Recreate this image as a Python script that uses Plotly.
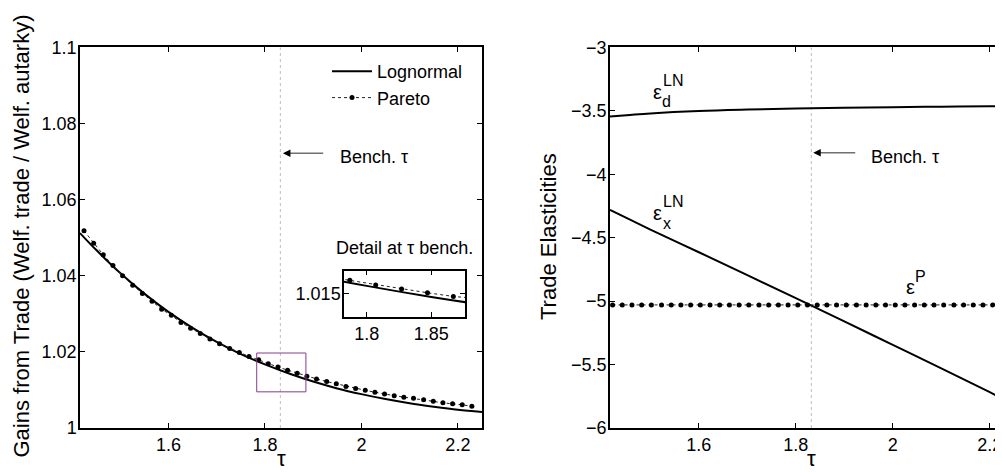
import plotly.graph_objects as go

# ---------------- data ----------------
# Left panel: gains from trade
tau_ln = [1.4167, 1.45, 1.5, 1.55, 1.6, 1.65, 1.7, 1.75, 1.8, 1.85, 1.9, 1.95,
          2.0, 2.05, 2.1, 2.15, 2.2, 2.25]
gains_ln = [1.0512, 1.0468, 1.0407, 1.0353, 1.0305, 1.0263, 1.0226, 1.0194, 1.0167,
            1.0143, 1.0122, 1.0104, 1.0089, 1.0076, 1.0065, 1.0056, 1.0048, 1.0042]

tau_par = [1.425, 1.445, 1.465, 1.485, 1.505, 1.526, 1.546, 1.566, 1.586, 1.606,
           1.626, 1.646, 1.666, 1.686, 1.706, 1.727, 1.747, 1.767, 1.787, 1.807,
           1.827, 1.847, 1.867, 1.887, 1.907, 1.928, 1.948, 1.968, 1.988, 2.008,
           2.028, 2.048, 2.068, 2.088, 2.108, 2.129, 2.149, 2.169, 2.189, 2.209, 2.229]
gains_par = [1.0518, 1.0485, 1.0455, 1.0427, 1.0400, 1.0375, 1.0353, 1.0333, 1.0312, 1.0296,
             1.0277, 1.0262, 1.0248, 1.0234, 1.0221, 1.0209, 1.0198, 1.0188, 1.0179, 1.0169,
             1.0160, 1.0152, 1.0144, 1.0136, 1.0129, 1.0122, 1.0116, 1.0109, 1.0104, 1.0099,
             1.0094, 1.0089, 1.0085, 1.0081, 1.0078, 1.0074, 1.0070, 1.0066, 1.0064, 1.0061, 1.0057]

# Right panel: trade elasticities
tau_el = [1.4167, 1.458, 1.5, 1.6, 1.7, 1.8, 1.9, 2.0, 2.1, 2.2, 2.25]
eps_d = [-3.546, -3.533, -3.521, -3.502, -3.491, -3.483, -3.477, -3.472, -3.468, -3.464, -3.462]
eps_x = [-4.281, -4.358, -4.436, -4.615, -4.795, -4.977, -5.160, -5.345, -5.530, -5.718, -5.812]

tau_epsp = [1.422, 1.442, 1.462, 1.482, 1.502, 1.523, 1.543, 1.563, 1.583, 1.603,
            1.623, 1.643, 1.663, 1.683, 1.703, 1.724, 1.744, 1.764, 1.784, 1.804,
            1.824, 1.844, 1.864, 1.884, 1.904, 1.925, 1.945, 1.965, 1.985, 2.005,
            2.025, 2.045, 2.065, 2.085, 2.105, 2.126, 2.146, 2.166, 2.186, 2.206,
            2.226, 2.246]
eps_p = [-5.03, -5.03, -5.03, -5.03, -5.03, -5.03, -5.03, -5.03, -5.03, -5.03,
         -5.03, -5.03, -5.03, -5.03, -5.03, -5.03, -5.03, -5.03, -5.03, -5.03,
         -5.03, -5.03, -5.03, -5.03, -5.03, -5.03, -5.03, -5.03, -5.03, -5.03,
         -5.03, -5.03, -5.03, -5.03, -5.03, -5.03, -5.03, -5.03, -5.03, -5.03,
         -5.03, -5.03]

bench_tau = 1.832

x_ticks = [1.6, 1.8, 2.0, 2.2]
x_ticklabels = ["1.6", "1.8", "2", "2.2"]
yl_ticks = [1.0, 1.02, 1.04, 1.06, 1.08, 1.1]
yl_ticklabels = ["1", "1.02", "1.04", "1.06", "1.08", "1.1"]
yr_ticks = [-3, -3.5, -4, -4.5, -5, -5.5, -6]
yr_ticklabels = ["\u22123", "\u22123.5", "\u22124", "\u22124.5", "\u22125", "\u22125.5", "\u22126"]
inset_xticks = [1.8, 1.85]
inset_xticklabels = ["1.8", "1.85"]
inset_yticks = [1.015]
inset_yticklabels = ["1.015"]

# ---------------- figure ----------------
# The page places the figure 8px from the top-left corner (body margin),
# so the figure is sized to fill the 1003x473 window from there.
OFF = 8
W, H = 1006, 465
FONT = "Liberation Sans, Arial, Helvetica, sans-serif"


def px_x(p):
    return (p - OFF) / W


def px_y(p):
    return (H - (p - OFF)) / H


fig = go.Figure()

# Left panel
fig.add_trace(go.Scatter(x=tau_ln, y=gains_ln, mode="lines", name="Lognormal",
                         line=dict(color="black", width=2, shape="spline"),
                         xaxis="x", yaxis="y"))
fig.add_trace(go.Scatter(x=tau_par, y=gains_par, mode="lines+markers", name="Pareto",
                         line=dict(color="#222222", width=1, dash="dot"),
                         marker=dict(color="black", size=5),
                         xaxis="x", yaxis="y"))
# Inset
fig.add_trace(go.Scatter(x=tau_ln, y=gains_ln, mode="lines", showlegend=False,
                         line=dict(color="black", width=2, shape="spline"),
                         xaxis="x3", yaxis="y3"))
fig.add_trace(go.Scatter(x=tau_par, y=gains_par, mode="lines+markers", showlegend=False,
                         line=dict(color="#222222", width=1, dash="dot"),
                         marker=dict(color="black", size=5),
                         xaxis="x3", yaxis="y3"))
# Right panel
fig.add_trace(go.Scatter(x=tau_el, y=eps_d, mode="lines", showlegend=False,
                         line=dict(color="black", width=2, shape="spline"),
                         xaxis="x2", yaxis="y2"))
fig.add_trace(go.Scatter(x=tau_el, y=eps_x, mode="lines", showlegend=False,
                         line=dict(color="black", width=2, shape="spline"),
                         xaxis="x2", yaxis="y2"))
fig.add_trace(go.Scatter(x=tau_epsp, y=eps_p, mode="lines+markers", showlegend=False,
                         line=dict(color="#222222", width=1, dash="dot"),
                         marker=dict(color="black", size=5),
                         xaxis="x2", yaxis="y2"))

tickfont = dict(family=FONT, size=18, color="black")
ax_common = dict(showline=True, linecolor="black", linewidth=1.5, ticks="inside",
                 ticklen=5, tickcolor="black", tickwidth=1, showgrid=False,
                 zeroline=False, tickfont=tickfont, automargin=False)
ay_common = dict(ax_common, ticklabelstandoff=-2)

ydom = [px_y(428), px_y(47.3)]

fig.update_layout(
    width=W, height=H,
    margin=dict(l=0, r=0, t=0, b=0, autoexpand=False),
    paper_bgcolor="white", plot_bgcolor="white",
    font=dict(family=FONT, color="black"),
    xaxis=dict(domain=[px_x(80), px_x(482)], range=[1.4167, 2.25], anchor="y",
               tickvals=x_ticks, ticktext=x_ticklabels, mirror="ticks", **ax_common),
    yaxis=dict(domain=ydom, range=[1.0, 1.1], anchor="x",
               tickvals=yl_ticks, ticktext=yl_ticklabels, mirror="ticks", **ay_common),
    xaxis2=dict(domain=[px_x(610), 1.0], range=[1.4167, 2.25], anchor="y2",
                tickvals=x_ticks, ticktext=x_ticklabels, mirror="ticks", **ax_common),
    yaxis2=dict(domain=ydom, range=[-6, -3], anchor="x2",
                tickvals=yr_ticks, ticktext=yr_ticklabels, mirror="ticks", **ay_common),
    xaxis3=dict(domain=[px_x(344), px_x(465)], range=[1.7825, 1.876], anchor="y3",
                tickvals=inset_xticks, ticktext=inset_xticklabels, mirror="ticks", **ax_common),
    yaxis3=dict(domain=[px_y(316.7), px_y(270.7)], range=[1.01, 1.02], anchor="x3",
                tickvals=inset_yticks, ticktext=inset_yticklabels, mirror="ticks", **ay_common),
    legend=dict(x=px_x(327), y=px_y(53), xanchor="left", yanchor="top",
                bgcolor="rgba(0,0,0,0)", font=dict(family=FONT, size=18, color="black"),
                itemwidth=40, tracegroupgap=0),
    showlegend=True,
)

# Shapes: benchmark lines and detail rectangle
shapes = [
    dict(type="line", xref="x", yref="y", x0=bench_tau, x1=bench_tau, y0=1.0, y1=1.1,
         line=dict(color="#bdbdbd", width=1, dash="dot"), layer="below"),
    dict(type="line", xref="x2", yref="y2", x0=bench_tau, x1=bench_tau, y0=-6, y1=-3,
         line=dict(color="#bdbdbd", width=1, dash="dot"), layer="below"),
    dict(type="rect", xref="x", yref="y", x0=1.783, x1=1.885, y0=1.0095, y1=1.0197,
         line=dict(color="#8a3a8a", width=1)),
]
fig.update_layout(shapes=shapes)

ann = []
# Bench annotations: gray shaft + black head
for xr, yr, head_x, tail_x, yy, tx, ty in [
    ("x", "y", 1.8373, 1.9239, 1.0722, 1.9507, 1.0711),
    ("x2", "y2", 1.836, 1.9256, -3.83, 1.9518, -3.864),
]:
    ann.append(dict(xref=xr, yref=yr, x=head_x + 0.01, y=yy, ax=tail_x, ay=yy,
                    axref=xr, ayref=yr, text="", showarrow=True, arrowhead=0,
                    arrowwidth=1.5, arrowcolor="#707070"))
    ann.append(dict(xref=xr, yref=yr, x=head_x, y=yy, ax=head_x + 0.012, ay=yy,
                    axref=xr, ayref=yr, text="", showarrow=True, arrowhead=2,
                    arrowsize=1, arrowwidth=1.5, arrowcolor="black"))
    ann.append(dict(xref=xr, yref=yr, x=tx, y=ty, text="Bench. \u03c4",
                    showarrow=False, xanchor="left", yanchor="middle",
                    font=dict(family=FONT, size=18)))
# Inset title
ann.append(dict(xref="paper", yref="paper", x=px_x(404.5), y=px_y(248),
                text="Detail at \u03c4 bench.", showarrow=False,
                xanchor="center", yanchor="middle", font=dict(family=FONT, size=18)))
# Epsilon labels
for (xe, ye, xs, ys, xb, yb, sup, sub) in [
    (1.5138, -3.35, 1.5458, -3.263, 1.5338, -3.428, "LN", "d"),
    (1.5138, -4.305, 1.5458, -4.218, 1.5338, -4.391, "LN", "x"),
]:
    ann.append(dict(xref="x2", yref="y2", x=xe, y=ye, text="\u03b5", showarrow=False,
                    xanchor="center", yanchor="middle", font=dict(family=FONT, size=20)))
    ann.append(dict(xref="x2", yref="y2", x=xs, y=ys, text=sup, showarrow=False,
                    xanchor="center", yanchor="middle", font=dict(family=FONT, size=16)))
    ann.append(dict(xref="x2", yref="y2", x=xb, y=yb, text=sub, showarrow=False,
                    xanchor="center", yanchor="middle", font=dict(family=FONT, size=16)))
ann.append(dict(xref="x2", yref="y2", x=2.0355, y=-4.885, text="\u03b5", showarrow=False,
                xanchor="center", yanchor="middle", font=dict(family=FONT, size=20)))
ann.append(dict(xref="x2", yref="y2", x=2.0572, y=-4.806, text="P", showarrow=False,
                xanchor="center", yanchor="middle", font=dict(family=FONT, size=16)))
# Axis titles
ann.append(dict(xref="paper", yref="paper", x=px_x(21), y=px_y(236.5),
                text="Gains from Trade (Welf. trade / Welf. autarky)", textangle=-90,
                showarrow=False, xanchor="center", yanchor="middle",
                font=dict(family=FONT, size=22)))
ann.append(dict(xref="paper", yref="paper", x=px_x(549), y=px_y(237),
                text="Trade Elasticities", textangle=-90,
                showarrow=False, xanchor="center", yanchor="middle",
                font=dict(family=FONT, size=22)))
ann.append(dict(xref="paper", yref="paper", x=px_x(281.5), y=0,
                text="\u03c4", showarrow=False, xanchor="center", yanchor="bottom",
                font=dict(family=FONT, size=22)))
ann.append(dict(xref="paper", yref="paper", x=px_x(811), y=0,
                text="\u03c4", showarrow=False, xanchor="center", yanchor="bottom",
                font=dict(family=FONT, size=22)))
fig.update_layout(annotations=ann)

fig.write_html("out.html")
